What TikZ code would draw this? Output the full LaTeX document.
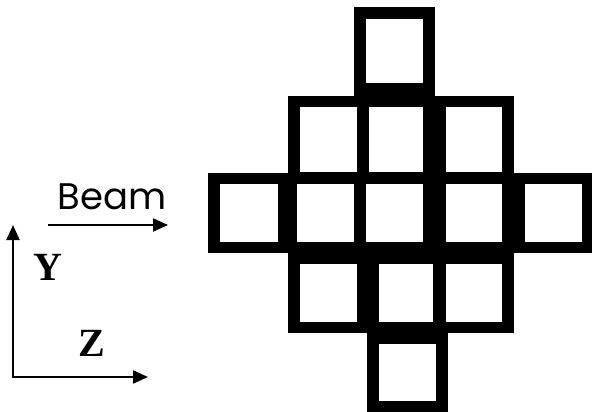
\documentclass[tikz,border=0pt]{standalone}
\usepackage{fontspec}
\setmainfont{Liberation Serif}
\newfontfamily\beamfont{Poppins}
\usetikzlibrary{arrows.meta}

\begin{document}
\begin{tikzpicture}[
  x=1pt, y=-1pt,
  frame/.style={fill=black},
  hole/.style={fill=white},
  tip/.tip={Triangle[length=15pt, width=13pt]},
  axis/.style={line width=2pt},
  axislabel/.style={font=\fontsize{40}{40}\selectfont\bfseries, inner sep=0pt},
  beamlabel/.style={font=\beamfont\fontsize{37}{37}\selectfont, inner sep=0pt}
]
  \useasboundingbox (0,0) rectangle (592,412);

  % black frames, one per row
  \fill[frame] (354,7) rectangle (435,96);
  \fill[frame] (288,96) rectangle (514,173);
  \fill[frame] (208,173) rectangle (592,253);
  \fill[frame] (288,253) rectangle (514,333);
  \fill[frame] (367,333) rectangle (448,412);

  % white holes
  \fill[hole] (366,19) rectangle (423,83);

  \fill[hole] (300,107) rectangle (357,172);
  \fill[hole] (369,107) rectangle (423,172);
  \fill[hole] (446,107) rectangle (502,172);

  \fill[hole] (220,184) rectangle (278,242);
  \fill[hole] (297,184) rectangle (354,242);
  \fill[hole] (366,184) rectangle (423,242);
  \fill[hole] (446,184) rectangle (502,242);
  \fill[hole] (525,184) rectangle (582,242);

  \fill[hole] (300,264) rectangle (357,322);
  \fill[hole] (379,264) rectangle (433,322);
  \fill[hole] (446,264) rectangle (502,322);

  \fill[hole] (379,344) rectangle (436,401);

  % beam direction and axes
  \coordinate (beamtail) at (48,225);
  \coordinate (beamhead) at (168,225);
  \coordinate (origin) at (13,377);
  \coordinate (ytip) at (13,225);
  \coordinate (ztip) at (148,377);

  \node[beamlabel] (beam) at (112,197) {Beam};
  \node[axislabel] (ylabel) at (48,267) {Y};
  \node[axislabel] (zlabel) at (92,343) {Z};

  \draw[axis, -tip] (beamtail) -- (beamhead);
  \draw[axis, tip-tip] (ytip) -- (origin) -- (ztip);
\end{tikzpicture}
\end{document}
